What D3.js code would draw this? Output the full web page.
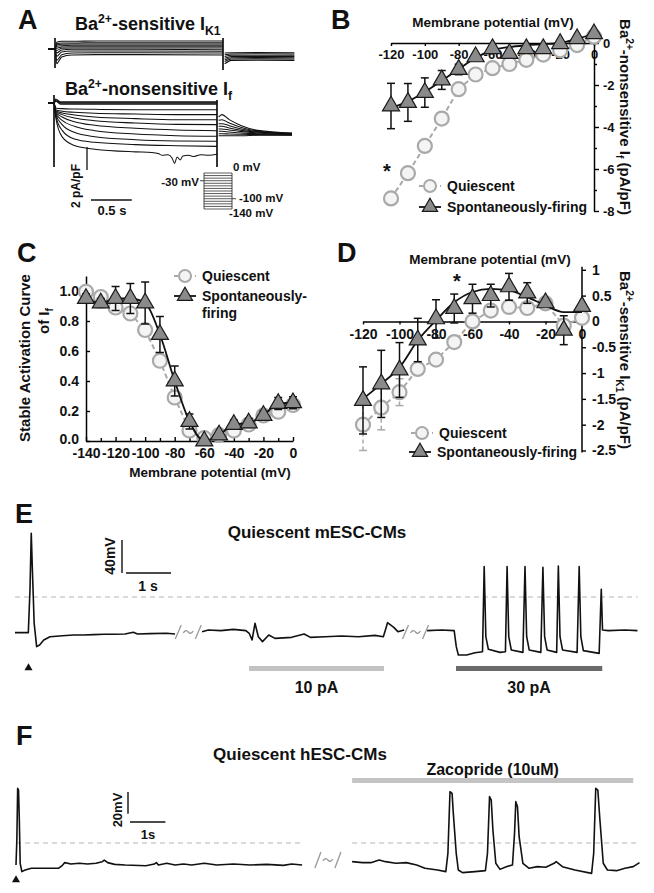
<!DOCTYPE html>
<html><head><meta charset="utf-8">
<script src="https://cdn.jsdelivr.net/npm/d3@7"></script>
<style>
body{margin:0;background:#fff}
svg{display:block}
text{font-family:"Liberation Sans",Arial,Helvetica,sans-serif;font-weight:bold;fill:#111}
</style>
</head><body>
<svg id="fig" width="654" height="893"></svg>
<script>
// ---------------- DATA ----------------
// Panel A: Ba2+-sensitive IK1 sweeps (pA/pF) at times (s)
const k1Times = [0.02, 0.08, 0.2, 0.5, 1.0, 2.0];
const k1Sweeps = [
  [0.58, 0.67, 0.67, 0.70, 0.70, 0.70],
  [0.46, 0.52, 0.52, 0.55, 0.55, 0.55],
  [0.35, 0.41, 0.43, 0.43, 0.43, 0.43],
  [0.23, 0.29, 0.32, 0.32, 0.32, 0.32],
  [0.06, 0.17, 0.20, 0.20, 0.20, 0.20],
  [-0.12, 0.06, 0.09, 0.09, 0.09, 0.09],
  [-0.35, -0.09, -0.03, -0.03, -0.03, -0.06],
  [-0.64, -0.26, -0.17, -0.17, -0.17, -0.20],
  [-0.99, -0.49, -0.35, -0.32, -0.32, -0.35],
  [-1.28, -0.70, -0.52, -0.49, -0.49, -0.52]
];
const k1TailTimes = [2.02, 2.1, 2.4, 2.85];
const k1Tails = [
  [-0.35, -0.32, -0.30, -0.32],
  [-0.50, -0.44, -0.42, -0.44],
  [-0.65, -0.55, -0.54, -0.55],
  [-0.80, -0.66, -0.65, -0.66],
  [-0.95, -0.76, -0.75, -0.76],
  [-1.10, -0.87, -0.86, -0.87],
  [-1.30, -0.99, -0.97, -0.99]
];
const k1Transients = [[0, 0.96, -1.65], [2, 0.96, -1.83]];
// Panel A: Ba2+-nonsensitive If sweeps
const ifTimes = [0.02, 0.1, 0.25, 0.5, 1.0, 1.5, 2.0];
const ifFlat = [0.10, 0.03, -0.03, -0.10];
const ifSweeps = [
  [-0.43, -0.49, -0.52, -0.55, -0.58, -0.58, -0.58],
  [-0.58, -0.72, -0.81, -0.90, -0.96, -1.01, -1.01],
  [-0.67, -0.87, -1.04, -1.22, -1.36, -1.45, -1.45],
  [-0.72, -1.01, -1.30, -1.54, -1.74, -1.86, -1.88],
  [-0.78, -1.22, -1.62, -1.94, -2.20, -2.35, -2.41],
  [-0.87, -1.51, -2.03, -2.41, -2.70, -2.84, -2.90],
  [-0.96, -1.88, -2.55, -2.93, -3.19, -3.30, -3.33],
  [-1.07, -2.38, -3.13, -3.42, -3.62, -3.71, -3.77],
  [-1.22, -2.95, -3.70, -4.02, -4.25, -4.35, -4.40]
];
const ifLastNoise = [[1.2,-4.3],[1.28,-4.4],[1.33,-4.55],[1.4,-4.5],[1.45,-4.8],[1.48,-5.25],[1.51,-4.7],[1.55,-4.95],[1.58,-4.6],[1.65,-4.55],[1.72,-4.65],[1.8,-4.5],[1.9,-4.55],[2.0,-4.45]];
const ifTailTimes = [2.02, 2.06, 2.15, 2.3, 2.5, 2.92];
const ifTails = [
  [-1.22, -1.01, -1.45, -1.97, -2.38, -2.61],
  [-1.51, -1.45, -1.74, -2.12, -2.43, -2.64],
  [-1.80, -1.80, -1.97, -2.26, -2.49, -2.67],
  [-2.03, -2.03, -2.17, -2.38, -2.55, -2.70],
  [-2.26, -2.26, -2.35, -2.49, -2.61, -2.72],
  [-2.46, -2.46, -2.52, -2.61, -2.67, -2.75],
  [-2.67, -2.67, -2.70, -2.72, -2.75, -2.78],
  [-2.84, -2.84, -2.84, -2.84, -2.81, -2.81]
];
const ifTransients = [[0, 0.7, -5.57], [2, 0.26, -5.57]];
const protLevels = [0,-10,-20,-30,-40,-50,-60,-70,-80,-90,-100,-110,-120,-130,-140];

// Panel B
const voltsB = [-120,-110,-100,-90,-80,-70,-60,-50,-40,-30,-20,-10,0];
const bQuiet = [-7.4,-6.2,-4.9,-3.6,-2.2,-1.5,-1.2,-1.0,-0.8,-0.55,-0.35,-0.1,0.3];
const bQuietErr = [0.15,0.15,0.15,0.15,0.15,0.12,0.1,0.1,0.1,0.1,0.1,0.1,0.1];
const bSpont = [-3.0,-2.83,-2.36,-1.76,-1.26,-0.66,-0.27,-0.5,-0.27,-0.27,-0.03,0.2,0.44];
const bSpontErr = [1.08,0.9,0.7,0.45,0.25,0.15,0.12,0.12,0.1,0.1,0.1,0.1,0.15];
const bFit = [-3.1,-2.78,-2.33,-1.8,-1.25,-0.7,-0.35,-0.19,-0.11,-0.06,0.0,0.2,0.44];

// Panel C
const voltsC = [-140,-130,-120,-110,-100,-90,-80,-70,-60,-50,-40,-30,-20,-10,0];
const cQuiet = [0.995,0.96,0.89,0.85,0.74,0.535,0.29,0.07,0.02,0.04,0.07,0.11,0.17,0.195,0.24];
const cSpont = [0.95,0.92,0.95,0.95,0.92,0.71,0.40,0.13,0.0,0.04,0.11,0.12,0.17,0.25,0.255];
const cSpontErr = [0.03,0.03,0.08,0.1,0.14,0.12,0.1,0.05,0.02,0.02,0.03,0.03,0.03,0.04,0.04];

// Panel D
const voltsD = [-120,-110,-100,-90,-80,-70,-60,-50,-40,-30,-20,-10,0];
const dQuiet = [-2.0,-1.67,-1.37,-0.92,-0.74,-0.4,0.0,0.21,0.28,0.26,0.35,-0.08,0.07];
const dQuietErr = [0.5,0.43,0.26,0.1,0.1,0.08,0.05,0.08,0.1,0.1,0.05,0.05,0.05];
const dSpont = [-1.53,-1.21,-0.94,-0.36,0.05,0.25,0.44,0.5,0.67,0.55,0.36,-0.17,0.29];
const dSpontErr = [0.65,0.65,0.53,0.42,0.37,0.28,0.28,0.22,0.26,0.2,0.05,0.28,0.05];
const dFit = [-1.5,-1.21,-0.89,-0.37,0.02,0.37,0.57,0.63,0.6,0.47,0.31,0.18,0.18];

// Panel E: membrane potential trace segments [time s, mV]
const eSeg1 = [[0,-43.2],[0.296,-43.2],[0.333,8.5],[0.361,77.2],[0.389,28.7],[0.426,-31.9],[0.481,-60.2],[0.546,-58.2],[0.639,-52.1],[0.778,-48.1],[1.056,-46.9],[1.3,-46.1],[1.519,-46.1],[1.75,-45.6],[1.981,-45.2],[2.2,-45.2],[2.444,-44.8],[2.630,-42.8],[2.722,-44.8],[3.0,-44.4],[3.370,-44.0],[3.556,-44.8]];
const eSeg2 = [[4.157,-42.0],[4.296,-40.0],[4.574,-40.8],[4.852,-39.2],[5.130,-40.8],[5.204,-44.0],[5.269,-52.1],[5.333,-31.9],[5.407,-48.1],[5.500,-54.1],[5.639,-46.1],[5.778,-50.1],[6.148,-48.9],[6.426,-44.8],[6.565,-48.9],[6.889,-48.1],[7.259,-47.3],[7.630,-48.1],[8.000,-46.5],[8.185,-48.1],[8.231,-40.0],[8.278,-31.1],[8.417,-36.8],[8.509,-42.0],[8.648,-40.0]];
const eSeg3 = [[9.157,-40.8],[9.481,-40.0],[9.759,-40.8],[9.806,-60.2],[9.852,-70.3],[10.037,-70.3],[10.222,-67.5],[10.389,-66.3],[10.426,36.8],[10.463,-48.1],[10.519,-63.4],[10.778,-67.1],[10.898,-66.3],[10.935,36.8],[10.972,-48.1],[11.028,-64.2],[11.287,-67.1],[11.333,36.8],[11.370,-48.1],[11.426,-64.2],[11.685,-67.1],[11.731,36.0],[11.769,-48.1],[11.824,-64.2],[12.037,-67.1],[12.074,37.6],[12.111,-48.1],[12.167,-64.2],[12.491,-67.1],[12.537,36.8],[12.574,-48.1],[12.630,-65.0],[12.981,-68.3],[13.028,9.3],[13.056,-40.0],[13.185,-40.8],[13.556,-40.0],[13.833,-40.8]];
const eBreaks = [3.85, 8.9];
const eStim = [["10 pA", 5.2, 8.2, "#c2c2c2"], ["30 pA", 9.8, 13.05, "#6a6a6a"]];

// Panel F
const fSeg1 = [[0,-20.3],[0.024,2.8],[0.047,50.4],[0.071,48.8],[0.094,21.2],[0.118,-18.7],[0.165,-26.4],[0.259,-24.9],[0.435,-23.3],[0.729,-23.3],[1.2,-23.3],[1.318,-20.3],[1.376,-18.1],[1.553,-19.4],[1.788,-18.7],[2.024,-19.4],[2.259,-18.7],[2.435,-17.2],[2.494,-15.7],[2.588,-18.1],[2.788,-19.7],[3.082,-20.3],[3.671,-20.9],[3.906,-19.4],[3.965,-18.1],[4.024,-20.3],[4.259,-18.7],[4.494,-20.3],[4.729,-19.4],[4.965,-20.3],[5.318,-18.7],[5.671,-20.3],[6.141,-19.4],[6.612,-20.3],[7.082,-19.7],[7.553,-20.6],[7.788,-19.4],[8.082,-20.3]];
const fSeg2 = [[9.494,-17.2],[9.788,-18.1],[10.024,-18.1],[10.259,-15.7],[10.435,-17.2],[10.729,-18.7],[11.024,-18.1],[11.318,-20.3],[11.553,-23.3],[11.906,-24.9],[12.141,-26.4],[12.2,-9.5],[12.259,47.3],[12.318,45.8],[12.353,27.3],[12.435,-9.5],[12.494,-24.9],[12.612,-27.3],[12.965,-26.4],[13.259,-25.5],[13.318,-9.5],[13.376,42.7],[13.424,39.6],[13.471,12.0],[13.553,-18.7],[13.671,-24.3],[13.847,-21.8],[14.024,-20.3],[14.082,8.9],[14.118,38.1],[14.165,33.5],[14.212,5.8],[14.318,-18.7],[14.494,-23.3],[14.729,-21.8],[14.965,-22.4],[15.2,-18.7],[15.259,-17.2],[15.435,-21.8],[15.788,-24.9],[16.259,-28.0],[16.318,-9.5],[16.376,50.4],[16.435,48.8],[16.494,21.2],[16.588,-18.7],[16.706,-24.9],[16.965,-25.5],[17.2,-23.3],[17.435,-21.8],[17.612,-18.1]];
const fBreaks = [8.81];
const fDrug = ["Zacopride (10uM)", 9.494, 17.435];

// ---------------- DRAWING ----------------
const FONT = '"Liberation Sans", Arial, Helvetica, sans-serif';
const svg = d3.select("#fig");
svg.append("rect").attr("width", 654).attr("height", 893).attr("fill", "#fff");

function addText(x, y, str, fs, anchor = "start", rot = 0) {
  const t = svg.append("text").attr("x", x).attr("y", y).attr("font-size", fs)
    .attr("text-anchor", anchor).text(str);
  if (rot) t.attr("transform", `rotate(${rot},${x},${y})`);
  return t;
}
function addRich(x, y, parts, fs, anchor = "start", rot = 0) {
  const t = svg.append("text").attr("x", x).attr("y", y).attr("font-size", fs).attr("text-anchor", anchor);
  let shift = 0;
  parts.forEach(([s, k]) => {
    const target = k === "sup" ? -0.4 * fs : k === "sub" ? 0.28 * fs : 0;
    t.append("tspan").attr("dy", target - shift).attr("font-size", k === "n" ? fs : fs * 0.68).text(s);
    shift = target;
  });
  if (rot) t.attr("transform", `rotate(${rot},${x},${y})`);
  return t;
}
function styleAxis(g, fs) {
  g.attr("font-family", FONT).attr("font-size", fs).attr("font-weight", "bold");
  g.selectAll("path.domain").attr("stroke", "#000").attr("stroke-width", 1.5);
  g.selectAll(".tick line").attr("stroke", "#000").attr("stroke-width", 1.4);
  g.selectAll("text").attr("fill", "#111");
}
const seg = (x1, y1, x2, y2, color = "#000", w = 1.4, dash = null) =>
  svg.append("line").attr("x1", x1).attr("y1", y1).attr("x2", x2).attr("y2", y2)
    .attr("stroke", color).attr("stroke-width", w).attr("stroke-dasharray", dash);

// panel letters
[["A", 18, 29], ["B", 331, 29], ["C", 17, 262], ["D", 337, 262], ["E", 15, 523], ["F", 16, 745]]
  .forEach(([l, x, y]) => addText(x, y, l, 27));

// ---------- Panel A ----------
const xK = d3.scaleLinear([0, 2], [55, 223]);
const yK = d3.scaleLinear([0, 1], [49, 37.5]);
const xI = d3.scaleLinear([0, 2], [54, 217]);
const yI = d3.scaleLinear([0, 1], [103, 91.5]);
const lineK = d3.line().x(d => xK(d[0])).y(d => yK(d[1])).curve(d3.curveMonotoneX);
const lineI = d3.line().x(d => xI(d[0])).y(d => yI(d[1])).curve(d3.curveMonotoneX);
const gA = svg.append("g").attr("fill", "none").attr("stroke", "#111").attr("stroke-width", 1.05);
k1Sweeps.forEach(sw => {
  gA.append("path").attr("d", lineK([[-0.08, 0], [0, 0], ...k1Times.map((t, j) => [t, sw[j]])]));
});
k1Tails.forEach(tl => gA.append("path").attr("d", lineK(k1TailTimes.map((t, j) => [t, tl[j]]))));
k1Transients.forEach(([t, a, b]) => gA.append("line").attr("x1", xK(t)).attr("x2", xK(t))
  .attr("y1", yK(a)).attr("y2", yK(b)).attr("stroke-width", 1.7));

ifFlat.forEach(v => gA.append("path").attr("d", lineI([[-0.07, 0], [0, 0], [0.02, v + 0.25], [0.08, v], ...ifTimes.slice(2).map(t => [t, v])])));
ifSweeps.forEach((sw, i) => {
  let pts = [[-0.07, 0], [0, 0], ...ifTimes.map((t, j) => [t, sw[j]])];
  if (i === ifSweeps.length - 1) pts = [...pts.filter(p => p[0] <= 1.0), ...ifLastNoise];
  gA.append("path").attr("d", lineI(pts));
});
ifTails.forEach(tl => gA.append("path").attr("d", lineI(ifTailTimes.map((t, j) => [t, tl[j]]))));
ifTransients.forEach(([t, a, b]) => gA.append("line").attr("x1", xI(t)).attr("x2", xI(t))
  .attr("y1", yI(a)).attr("y2", yI(b)).attr("stroke-width", 1.7));

addRich(75, 30, [["Ba", "n"], ["2+", "sup"], ["-sensitive I", "n"], ["K1", "sub"]], 18);
addRich(65, 95, [["Ba", "n"], ["2+", "sup"], ["-nonsensitive I", "n"], ["f", "sub"]], 18);

// scale bars A
seg(87, yI(0) + 67, 87, yI(0) + 67 - (yI(0) - yI(2)), "#111", 1.3);
seg(91, 200, 91 + xI(0.5) - xI(0), 200, "#111", 1.3);
addText(80, 186, "2 pA/pF", 12, "middle", -90);
addText(112, 215, "0.5 s", 13, "middle");
// protocol inset
const yP = d3.scaleLinear([-140, 0], [209, 173]);
protLevels.forEach(v => seg(204, yP(v), 232, yP(v), "#333", 0.8));
seg(204, yP(0), 204, yP(-140), "#333", 0.9);
seg(232, yP(0), 232, yP(-140), "#333", 0.9);
seg(200, yP(-30), 204, yP(-30), "#333", 0.9);
seg(232, yP(-100), 236, yP(-100), "#333", 0.9);
addText(233, 171, "0 mV", 11.5);
addText(199, 186, "-30 mV", 11.5, "end");
addText(239, 202, "-100 mV", 11.5);
addText(229, 217, "-140 mV", 11.5);

// ---------- IV helpers ----------
const GRAY = "#a9a9a9";
function drawErr(g, xs, ys, volts, vals, errs, color, dash) {
  volts.forEach((v, i) => {
    const x = xs(v), y1 = ys(vals[i] - errs[i]), y2 = ys(vals[i] + errs[i]);
    g.append("line").attr("x1", x).attr("x2", x).attr("y1", y1).attr("y2", y2)
      .attr("stroke", color).attr("stroke-width", 1.5).attr("stroke-dasharray", dash);
    [y1, y2].forEach(y => g.append("line").attr("x1", x - 4).attr("x2", x + 4).attr("y1", y).attr("y2", y)
      .attr("stroke", color).attr("stroke-width", 1.5));
  });
}
function drawCircles(g, xs, ys, volts, vals) {
  g.selectAll(null).data(volts).join("circle").attr("cx", d => xs(d)).attr("cy", (d, i) => ys(vals[i]))
    .attr("r", 7).attr("fill", "#f4f4f4").attr("stroke", GRAY).attr("stroke-width", 2.2);
}
const tri = d3.symbol(d3.symbolTriangle, 125);
function drawTris(g, xs, ys, volts, vals) {
  g.selectAll(null).data(volts).join("path").attr("d", tri)
    .attr("transform", (d, i) => `translate(${xs(d)},${ys(vals[i])})`)
    .attr("fill", "#8a8a8a").attr("stroke", "#1a1a1a").attr("stroke-width", 1.2);
}
function dashedLine(g, xs, ys, volts, vals) {
  g.append("path").attr("d", d3.line().x((d, i) => xs(d)).y((d, i) => ys(vals[i]))(volts))
    .attr("fill", "none").attr("stroke", GRAY).attr("stroke-width", 2).attr("stroke-dasharray", "5,3");
}
function solidLine(g, xs, ys, volts, vals) {
  g.append("path").attr("d", d3.line().x(d => xs(d)).y((d, i) => ys(vals[i])).curve(d3.curveMonotoneX)(volts))
    .attr("fill", "none").attr("stroke", "#111").attr("stroke-width", 1.8);
}
function legend(x, y, kind, lines, fs = 14) {
  const g = svg.append("g");
  if (kind === "q") {
    g.append("line").attr("x1", x - 11).attr("x2", x + 11).attr("y1", y).attr("y2", y)
      .attr("stroke", GRAY).attr("stroke-width", 2).attr("stroke-dasharray", "4,3");
    g.append("circle").attr("cx", x).attr("cy", y).attr("r", 6).attr("fill", "#f4f4f4").attr("stroke", GRAY).attr("stroke-width", 2);
  } else {
    g.append("line").attr("x1", x - 11).attr("x2", x + 11).attr("y1", y).attr("y2", y).attr("stroke", "#111").attr("stroke-width", 1.8);
    g.append("path").attr("d", d3.symbol(d3.symbolTriangle, 100)).attr("transform", `translate(${x},${y})`)
      .attr("fill", "#8a8a8a").attr("stroke", "#1a1a1a").attr("stroke-width", 1.2);
  }
  lines.forEach((s, i) => addText(x + 17, y + 5 + i * 17, s, fs));
}

// ---------- Panel B ----------
const xB = d3.scaleLinear([-120, 0], [391, 594]);
const yB = d3.scaleLinear([-8, 0.5], [211, 32.5]);
{
  const gx = svg.append("g").attr("transform", `translate(0,${yB(0)})`)
    .call(d3.axisBottom(xB).tickValues(d3.range(-120, 1, 20)).tickSizeInner(3).tickSizeOuter(0).tickPadding(4).tickFormat(String));
  styleAxis(gx, 13);
  const gy = svg.append("g").attr("transform", `translate(${xB(0)},0)`)
    .call(d3.axisRight(yB).tickValues([-8, -6, -4, -2, 0]).tickSizeInner(5).tickSizeOuter(0).tickPadding(4).tickFormat(String));
  styleAxis(gy, 13);
  const gm = svg.append("g").attr("transform", `translate(${xB(0)},0)`)
    .call(d3.axisRight(yB).tickValues([-7, -5, -3, -1]).tickSize(3).tickFormat(""));
  styleAxis(gm, 13); gm.select("path.domain").remove();
  const g = svg.append("g");
  dashedLine(g, xB, yB, voltsB, bQuiet);
  drawErr(g, xB, yB, voltsB, bQuiet, bQuietErr, GRAY, null);
  drawCircles(g, xB, yB, voltsB, bQuiet);
  drawErr(g, xB, yB, voltsB, bSpont, bSpontErr, "#111", null);
  solidLine(g, xB, yB, voltsB, bFit);
  drawTris(g, xB, yB, voltsB, bSpont);
  addText(493, 27, "Membrane potential (mV)", 13.5, "middle");
  addRich(620, 117, [["Ba", "n"], ["2+", "sup"], ["-nonsensitive I", "n"], ["f", "sub"], [" (pA/pF)", "n"]], 15, "middle", 90);
  addText(387, 178, "*", 20, "middle").attr("font-weight", "normal");
  legend(430, 186, "q", ["Quiescent"]);
  legend(430, 207, "s", ["Spontaneously-firing"]);
}

// ---------- Panel C ----------
const xC = d3.scaleLinear([-140, 0], [86, 293]);
const yC = d3.scaleLinear([0, 1.1], [441, 276]);
{
  const gx = svg.append("g").attr("transform", `translate(0,${yC(0)})`)
    .call(d3.axisBottom(xC).tickValues(d3.range(-140, 1, 20)).tickSizeInner(-4).tickSizeOuter(0).tickPadding(7).tickFormat(String));
  styleAxis(gx, 14);
  const gxm = svg.append("g").attr("transform", `translate(0,${yC(0)})`)
    .call(d3.axisBottom(xC).tickValues(d3.range(-130, 0, 20)).tickSize(-3).tickFormat(""));
  styleAxis(gxm, 14); gxm.select("path.domain").remove();
  const gy = svg.append("g").attr("transform", `translate(${xC(-140)},0)`)
    .call(d3.axisLeft(yC).tickValues([0, 0.2, 0.4, 0.6, 0.8, 1.0]).tickSizeInner(-4).tickSizeOuter(0).tickPadding(7).tickFormat(d => d.toFixed(1)));
  styleAxis(gy, 14);
  gy.selectAll(".tick text").filter(d => d === 0).attr("dy", "0.2em");
  const g = svg.append("g");
  dashedLine(g, xC, yC, voltsC, cQuiet);
  drawCircles(g, xC, yC, voltsC, cQuiet);
  drawErr(g, xC, yC, voltsC, cSpont, cSpontErr, "#111", null);
  solidLine(g, xC, yC, voltsC, cSpont);
  drawTris(g, xC, yC, voltsC, cSpont);
  addText(210, 477, "Membrane potential (mV)", 13.5, "middle");
  addText(30, 358, "Stable Activation Curve", 15, "middle", -90);
  addRich(49, 321, [["of I", "n"], ["f", "sub"]], 15, "middle", -90);
  legend(185, 276, "q", ["Quiescent"]);
  legend(185, 296, "s", ["Spontaneously-", "firing"]);
}

// ---------- Panel D ----------
const xD = d3.scaleLinear([-120, 0], [363, 582]);
const yD = d3.scaleLinear([-2.5, 1], [450.5, 269.8]);
{
  const gx = svg.append("g").attr("transform", `translate(0,${yD(0)})`)
    .call(d3.axisBottom(xD).tickValues(d3.range(-120, 1, 20)).tickSizeInner(3).tickSizeOuter(0).tickPadding(5).tickFormat(String));
  styleAxis(gx, 14);
  const gy = svg.append("g").attr("transform", `translate(${xD(0)},0)`)
    .call(d3.axisRight(yD).tickValues([-2.5, -2, -1.5, -1, -0.5, 0, 0.5, 1]).tickSizeInner(4).tickSizeOuter(0).tickPadding(6).tickFormat(String));
  styleAxis(gy, 14);
  gy.select("path.domain").attr("d", `M0,${yD(-2.5) + 2}V${yD(1) - 3}`);
  const g = svg.append("g");
  dashedLine(g, xD, yD, voltsD, dQuiet);
  drawErr(g, xD, yD, voltsD, dQuiet, dQuietErr, GRAY, "4,3");
  drawCircles(g, xD, yD, voltsD, dQuiet);
  drawErr(g, xD, yD, voltsD, dSpont, dSpontErr, "#111", null);
  solidLine(g, xD, yD, voltsD, dFit);
  drawTris(g, xD, yD, voltsD, dSpont);
  addText(490, 264, "Membrane potential (mV)", 13.5, "middle");
  addRich(620, 360, [["Ba", "n"], ["2+", "sup"], ["-sensitive I", "n"], ["K1", "sub"], [" (pA/pF)", "n"]], 15, "middle", 90);
  addText(457, 288, "*", 20, "middle").attr("font-weight", "normal");
  legend(422, 433, "q", ["Quiescent"]);
  legend(420, 452, "s", ["Spontaneously-firing"]);
}

// ---------- Panel E ----------
const xE = d3.scaleLinear([0, 13.833], [15, 637.5]);
const yE = d3.scaleLinear([0, 40], [597, 564]);
const lineE = d3.line().x(d => xE(d[0])).y(d => yE(d[1]));
function breakMark(cx, cy, h) {
  const g = svg.append("g").attr("fill", "none").attr("stroke", "#9a9a9a").attr("stroke-width", 1.3);
  g.append("path").attr("d", `M${cx - 13},${cy + h}L${cx - 7},${cy - h}`);
  g.append("path").attr("d", `M${cx + 7},${cy + h}L${cx + 13},${cy - h}`);
  g.append("path").attr("d", `M${cx - 5},${cy + 1}Q${cx - 2.5},${cy - 3} ${cx},${cy}T${cx + 5},${cy - 1}`);
}
{
  seg(xE(0), yE(0), xE(13.833), yE(0), "#b5b5b5", 1.2, "5,4");
  [eSeg1, eSeg2, eSeg3].forEach(s => svg.append("path").attr("d", lineE(s)).attr("fill", "none")
    .attr("stroke", "#111").attr("stroke-width", 1.6).attr("stroke-linejoin", "round"));
  eBreaks.forEach(t => breakMark(xE(t), 632, 7));
  eStim.forEach(([lab, t0, t1, c]) => {
    svg.append("rect").attr("x", xE(t0)).attr("y", 666).attr("width", xE(t1) - xE(t0)).attr("height", 5).attr("fill", c);
    addText((xE(t0) + xE(t1)) / 2, 693, lab, 16, "middle");
  });
  svg.append("path").attr("d", d3.symbol(d3.symbolTriangle, 28)).attr("transform", `translate(${xE(0.3)},668)`).attr("fill", "#111");
  addText(317, 538, "Quiescent mESC-CMs", 17, "middle");
  seg(122, 540, 122, 540 + (yE(0) - yE(40)), "#111", 1.4);
  seg(126, 573, 126 + xE(1) - xE(0), 573, "#111", 1.4);
  addText(115, 556, "40mV", 14, "middle", -90);
  addText(148, 591, "1 s", 14, "middle");
}

// ---------- Panel F ----------
const xF = d3.scaleLinear([0, 17.612], [16, 639.5]);
const yF = d3.scaleLinear([0, 20], [843, 821.3]);
const lineF = d3.line().x(d => xF(d[0])).y(d => yF(d[1]));
{
  seg(xF(0), yF(0), xF(8.082), yF(0), "#b5b5b5", 1.2, "5,4");
  seg(xF(9.494), yF(0), xF(17.612), yF(0), "#b5b5b5", 1.2, "5,4");
  [fSeg1, fSeg2].forEach(s => svg.append("path").attr("d", lineF(s)).attr("fill", "none")
    .attr("stroke", "#111").attr("stroke-width", 1.6).attr("stroke-linejoin", "round"));
  fBreaks.forEach(t => breakMark(xF(t), 860, 8));
  const [lab, t0, t1] = fDrug;
  svg.append("rect").attr("x", xF(t0)).attr("y", 778).attr("width", xF(t1) - xF(t0)).attr("height", 5).attr("fill", "#c4c4c4");
  addText((xF(t0) + xF(t1)) / 2, 775, lab, 16, "middle");
  svg.append("path").attr("d", d3.symbol(d3.symbolTriangle, 28)).attr("transform", `translate(${xF(0)},880)`).attr("fill", "#111");
  addText(300, 760, "Quiescent hESC-CMs", 17, "middle");
  seg(128, 792, 128, 792 + (yF(0) - yF(20)), "#111", 1.4);
  seg(130, 822, 130 + xF(1) - xF(0), 822, "#111", 1.4);
  addText(122, 810, "20mV", 13, "middle", -90);
  addText(148, 839, "1s", 13, "middle");
}
</script>
</body></html>
